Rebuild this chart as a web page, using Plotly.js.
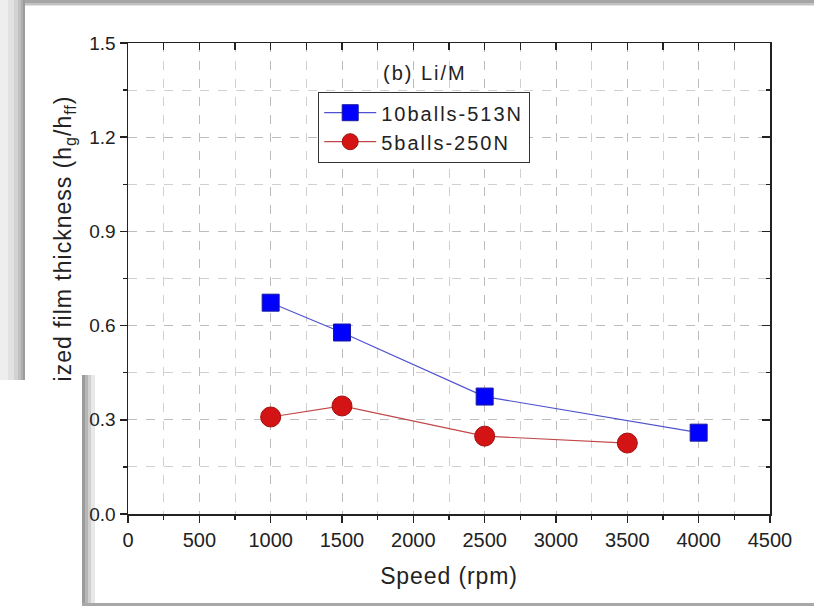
<!DOCTYPE html>
<html>
<head>
<meta charset="utf-8">
<script src="https://cdn.plot.ly/plotly-3.0.1.min.js"></script>
<style>
html,body{margin:0;padding:0;background:#fff;}
#wrap{position:relative;width:814px;height:606px;}
#chart{width:814px;height:606px;}
#overlay{position:absolute;left:0;top:380px;width:82px;height:226px;background:#ffffff;z-index:10;}
text.xtitle{letter-spacing:0.9px;}
text.ytitle{letter-spacing:1.0px;}
text.legendtext{letter-spacing:2px;}
text.annotation-text{letter-spacing:2px;}
</style>
</head>
<body>
<div id="wrap">
<div id="chart"></div>
<div id="overlay"></div>
</div>
<script>
// Data
const speed10 = [1000, 1500, 2500, 4000];
const film10 = [0.673, 0.578, 0.374, 0.259];
const speed5 = [1000, 1500, 2500, 3500];
const film5 = [0.309, 0.344, 0.248, 0.226];
const name10 = '10balls-513N';
const name5 = '5balls-250N';
const xTitle = 'Speed (rpm)';
const yTitle = 'Normalized film thickness (h<sub>g</sub>/h<sub>ff</sub>)';
const panelLabel = '(b) Li/M';

// layout geometry (pixels)
const W = 814, H = 606, L = 128, R = 44, T = 43, B = 92;
const pw = W - L - R, ph = H - T - B;
const px = v => (v - L) / pw;
const py = v => (H - B - v) / ph;

function rect(x0, y0, x1, y1, color) {
  return {type: 'rect', xref: 'paper', yref: 'paper', layer: 'below',
    x0: px(x0), x1: px(x1), y0: py(y1), y1: py(y0),
    fillcolor: color, line: {width: 0}};
}

const shapes = [];
// top window border
shapes.push(rect(22, 0, 814, 3, '#a6a6a6'));
shapes.push(rect(22, 3, 814, 5, '#c2c2c2'));
shapes.push(rect(22, 5, 814, 6, '#e2e2e2'));
// left shadow band
const lb = [[0, 8, '#eeeeee'], [8, 14, '#e2e2e2'], [14, 18, '#d2d2d2'], [18, 21, '#c0c0c0'], [21, 23, '#adadad'], [23, 25, '#9c9c9c']];
lb.forEach(s => shapes.push(rect(s[0], 0, s[1], 380, s[2])));
// shadow of the bottom-left overlaid window
const rs = [[82, 85, '#9c9c9c'], [85, 88, '#b6b6b6'], [88, 91, '#d0d0d0'], [91, 95, '#e8e8e8']];
rs.forEach(s => shapes.push(rect(s[0], 375, s[1], 603, s[2])));
// bottom border
shapes.push(rect(82, 603, 814, 606, '#a8a8a8'));

const font = 'Liberation Sans, Arial, sans-serif';

const traces = [
  {x: speed10, y: film10, name: name10, mode: 'lines+markers', type: 'scatter',
   line: {color: '#5050d0', width: 1.2},
   marker: {symbol: 'square', size: 17, color: '#0000ff', line: {color: '#1a1aa0', width: 1}}},
  {x: speed5, y: film5, name: name5, mode: 'lines+markers', type: 'scatter',
   line: {color: '#c04848', width: 1.2},
   marker: {symbol: 'circle', size: 20, color: '#d41414', line: {color: '#a01010', width: 1}}},
  {x: [], y: [], xaxis: 'x2', yaxis: 'y2', showlegend: false, hoverinfo: 'skip', type: 'scatter'}
];

const common = {showline: true, linecolor: '#222', linewidth: 1.5, zeroline: false,
  tickcolor: '#222', tickwidth: 1.5, automargin: false};

const layout = {
  width: W, height: H,
  margin: {l: L, r: R, t: T, b: B},
  paper_bgcolor: '#ffffff', plot_bgcolor: '#ffffff',
  font: {family: font, color: '#222', size: 19},
  showlegend: true,
  legend: {x: px(318), y: py(92), xanchor: 'left', yanchor: 'top',
    bgcolor: '#ffffff', bordercolor: '#333', borderwidth: 1.2,
    font: {family: font, size: 20, color: '#222'}, tracegroupgap: 0, itemwidth: 52},
  xaxis: Object.assign({}, common, {
    range: [0, 4500], tick0: 0, dtick: 500, ticks: 'outside', ticklen: 7,
    showgrid: true, gridcolor: '#bcbcbc', griddash: 'dash', gridwidth: 1,
    minor: {dtick: 250, ticks: 'outside', ticklen: 4, tickcolor: '#222', showgrid: true, gridcolor: '#d0d0d0', griddash: 'dash', gridwidth: 1},
    tickfont: {family: font, size: 20, color: '#222'},
    title: {text: xTitle, font: {family: font, size: 23, color: '#222'}, standoff: 18}
  }),
  yaxis: Object.assign({}, common, {
    range: [0, 1.5], tick0: 0, dtick: 0.3, tickformat: '.1f', ticks: 'outside', ticklen: 7,
    showgrid: true, gridcolor: '#bcbcbc', griddash: 'dash', gridwidth: 1,
    minor: {dtick: 0.15, ticks: 'outside', ticklen: 4, tickcolor: '#222', showgrid: true, gridcolor: '#d0d0d0', griddash: 'dash', gridwidth: 1},
    tickfont: {family: font, size: 19, color: '#222'},
    title: {text: yTitle, font: {family: font, size: 23, color: '#222'}, standoff: 11}
  }),
  xaxis2: Object.assign({}, common, {
    overlaying: 'x', side: 'top', range: [0, 4500], tick0: 0, dtick: 250,
    ticks: 'inside', ticklen: 7, showticklabels: false, showgrid: false
  }),
  yaxis2: Object.assign({}, common, {
    overlaying: 'y', side: 'right', range: [0, 1.5], tick0: 0, dtick: 0.3,
    ticks: 'inside', ticklen: 8, showticklabels: false, showgrid: false,
    minor: {dtick: 0.15, ticks: 'inside', ticklen: 4, tickcolor: '#222'}
  }),
  annotations: [{
    text: panelLabel, xref: 'paper', yref: 'paper', x: px(425), y: py(73),
    xanchor: 'center', yanchor: 'middle', showarrow: false,
    font: {family: font, size: 20, color: '#222'}
  }],
  shapes: shapes
};

Plotly.newPlot('chart', traces, layout, {displayModeBar: false, staticPlot: true});
</script>
</body>
</html>
